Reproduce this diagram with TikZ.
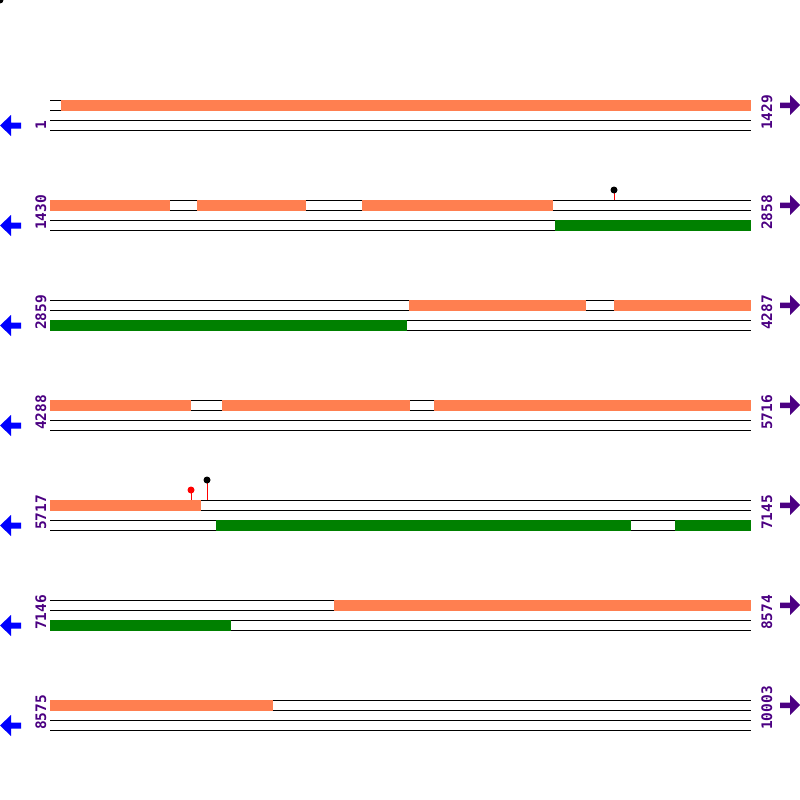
\documentclass[tikz,border=0pt]{standalone}
\usepackage{fontspec}
\newfontfamily\seqfont{DejaVu Sans Mono}
\definecolor{featorange}{HTML}{FF7F50}
\definecolor{featgreen}{HTML}{008000}
\definecolor{seqpurple}{HTML}{4B0082}
\tikzset{
    strand/.style = {line width=1pt},
    topbar/.style = {fill=featorange},
    botbar/.style = {fill=featgreen},
    poslabel/.style = {rotate=90, anchor=base west, inner sep=0pt, text=seqpurple,
        font=\seqfont\bfseries\fontsize{14.5}{15}\selectfont},
    pics/lolli/.style = {
        code = {%
        \draw[red, line width=1pt] (0,0) -- (0,#1);
        \fill (0,#1) circle[radius=3.5];
        }
    },
}

\begin{document}
\begin{tikzpicture}[x=1pt,y=-1pt]
\useasboundingbox (0,0) rectangle (800,800);
\begin{scope}
\clip (0,0) rectangle (800,800);
\fill (0,0) circle[radius=3.5];
\end{scope}

% the seven rows of the map
\foreach \r/\lo/\hi in {0/1/1429, 1/1430/2858, 2/2859/4287, 3/4288/5716,
                        4/5717/7145, 5/7146/8574, 6/8575/10003}{
\begin{scope}[shift={(0,100*\r)}]
\draw[strand] (50,100) -- (751,100);
\draw[strand] (50,110) -- (751,110);
\draw[strand] (50,120) -- (751,120);
\draw[strand] (50,130) -- (751,130);
\node[poslabel] (lo\r) at (46,130) {\lo};
\node[poslabel] (hi\r) at (772,130) {\hi};
\fill[blue] (0,125.5) -- (11,115) -- (11,122.5) -- (21,122.5) -- (21,128.5)
    -- (11,128.5) -- (11,136) -- cycle;
\fill[seqpurple] (800,105) -- (790,95) -- (790,102.5) -- (780,102.5) -- (780,108)
    -- (790,108) -- (790,115) -- cycle;
\end{scope}
}

% row 1
\fill[topbar] (61,100) rectangle (751,110.5);

% row 2
\foreach \a/\b in {50/170, 197/306, 362/553}
    \fill[topbar] (\a,200) rectangle (\b,210.5);
\fill[botbar] (555,220) rectangle (751,230.5);
\pic at (614,200) {lolli=-10};

% row 3
\foreach \a/\b in {409/586, 614/751}
    \fill[topbar] (\a,300) rectangle (\b,310.5);
\fill[botbar] (50,320) rectangle (407,330.5);

% row 4
\foreach \a/\b in {50/191, 222/410, 434/751}
    \fill[topbar] (\a,400) rectangle (\b,410.5);

% row 5
\fill[topbar] (50,500) rectangle (201,510.5);
\foreach \a/\b in {216/631, 675/751}
    \fill[botbar] (\a,520) rectangle (\b,530.5);
\pic[red] at (191,500) {lolli=-10};
\pic at (207,500) {lolli=-20};

% row 6
\fill[topbar] (334,600) rectangle (751,610.5);
\fill[botbar] (50,620) rectangle (231,630.5);

% row 7
\fill[topbar] (50,700) rectangle (273,710.5);

\end{tikzpicture}
\end{document}
